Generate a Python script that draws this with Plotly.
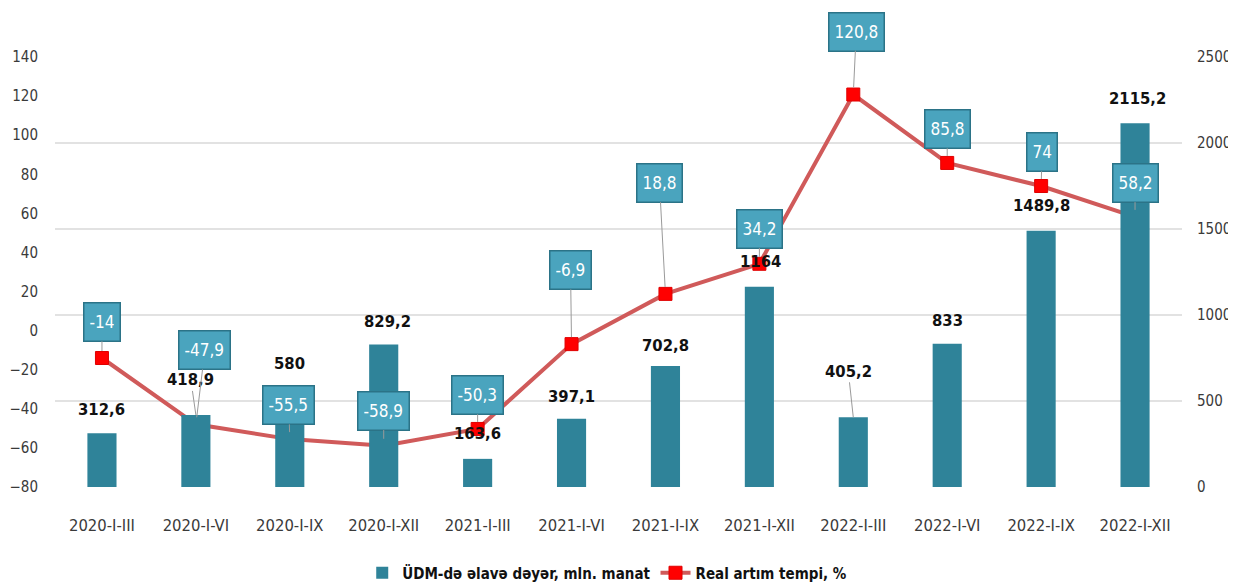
import plotly.graph_objects as go

categories = ["2020-I-III", "2020-I-VI", "2020-I-IX", "2020-I-XII",
              "2021-I-III", "2021-I-VI", "2021-I-IX", "2021-I-XII",
              "2022-I-III", "2022-I-VI", "2022-I-IX", "2022-I-XII"]
value_added = [312.6, 418.9, 580, 829.2, 163.6, 397.1, 702.8, 1164,
               405.2, 833, 1489.8, 2115.2]
real_growth = [-14, -47.9, -55.5, -58.9, -50.3, -6.9, 18.8, 34.2,
               120.8, 85.8, 74, 58.2]

# label placement (pixel offsets)
growth_box_ax = [0, 9, -1, 0, 0, -1, -6, 0, 3, 0, 1, 0]
growth_box_ay = [-36, -74, -34, -35, -34, -74, -111, -35, -63, -34, -34, -34]
bar_lbl_dx = [0, -5, 0, 4, 0, 0, 0, 1, -5, 0, 0, 2]
bar_lbl_dy = [24, 35, 24, 23, 25, 22, 21, 25, 46, 23, 25, 25]
bar_lbl_arrow = [False, True, False, False, False, False, False, False, True, False, False, False]

FONT = "DejaVu Sans Condensed, Liberation Sans Narrow, Arial Narrow, sans-serif"
BAR_COLOR = "#2F8399"
LINE_COLOR = "#D05A5A"
BOX_FILL = "#4AA4BE"
BOX_BORDER = "#2B7387"


def fmt(v):
    s = ("%g" % v)
    return s.replace(".", ",")


fig = go.Figure()
fig.add_trace(go.Bar(
    x=categories, y=value_added, yaxis="y2",
    name="ÜDM-də əlavə dəyər, mln. manat",
    marker=dict(color=BAR_COLOR, line=dict(width=0)),
    width=0.31,
))
fig.add_trace(go.Scatter(
    x=categories, y=real_growth, yaxis="y",
    name="Real artım tempi, %",
    mode="lines+markers",
    line=dict(color=LINE_COLOR, width=4),
    marker=dict(symbol="square", size=13, color="#FF0000",
                line=dict(color="#E00000", width=1)),
))

annotations = []
# bar value labels
for i, (c, v) in enumerate(zip(categories, value_added)):
    if bar_lbl_arrow[i]:
        annotations.append(dict(
            x=c, y=v, xref="x", yref="y2", text="<b>%s</b>" % fmt(v),
            showarrow=True, arrowhead=0, arrowwidth=1, arrowcolor="#9a9a9a",
            ax=bar_lbl_dx[i], ay=-bar_lbl_dy[i], standoff=0,
            font=dict(family=FONT, size=16.5, color="#111111"),
        ))
    else:
        annotations.append(dict(
            x=c, y=v, xref="x", yref="y2", text="<b>%s</b>" % fmt(v),
            showarrow=False, xshift=bar_lbl_dx[i], yshift=bar_lbl_dy[i],
            yanchor="middle",
            font=dict(family=FONT, size=16.5, color="#111111"),
        ))

# growth value boxes
for i, (c, v) in enumerate(zip(categories, real_growth)):
    annotations.append(dict(
        x=c, y=v, xref="x", yref="y", text=fmt(v),
        showarrow=True, arrowhead=0, arrowwidth=1, arrowcolor="#9a9a9a",
        standoff=7,
        ax=growth_box_ax[i], ay=growth_box_ay[i],
        bgcolor=BOX_FILL, bordercolor=BOX_BORDER,
        borderpad=5, borderwidth=1.5, height=27,
        font=dict(family=FONT, size=17, color="white"),
    ))

# page body has an 8px margin, so the figure is sized to fit the 1236x584 window
fig.update_layout(
    width=1228, height=576,
    margin=dict(l=47, r=54, t=49, b=97, autoexpand=False),
    paper_bgcolor="white", plot_bgcolor="white",
    font=dict(family=FONT, color="#3a3a3a"),
    showlegend=True,
    legend=dict(orientation="h", x=0.49, xanchor="center", y=-0.2, yanchor="middle",
                font=dict(family=FONT, size=15, color="#111111", weight="bold"),
                itemwidth=30),
    xaxis=dict(
        type="category", range=[-0.5, 11.5], showgrid=False, showline=False,
        zeroline=False, ticks="", tickfont=dict(family=FONT, size=16.5, color="#3a3a3a"),
        ticklabelstandoff=26, automargin=False,
    ),
    yaxis=dict(
        range=[-80, 140], dtick=20, tick0=-80, showgrid=False, zeroline=False,
        showline=False, ticks="", tickfont=dict(family=FONT, size=15, color="#3a3a3a"),
        ticklabelstandoff=16, automargin=False,
    ),
    yaxis2=dict(
        range=[0, 2500], dtick=500, overlaying="y", side="right",
        showgrid=True, gridcolor="#e2e2e2", gridwidth=2, zeroline=False,
        showline=False, ticks="", tickfont=dict(family=FONT, size=15, color="#3a3a3a"),
        ticklabelstandoff=14, automargin=False,
    ),
    annotations=annotations,
)

fig.write_html("out.html")
